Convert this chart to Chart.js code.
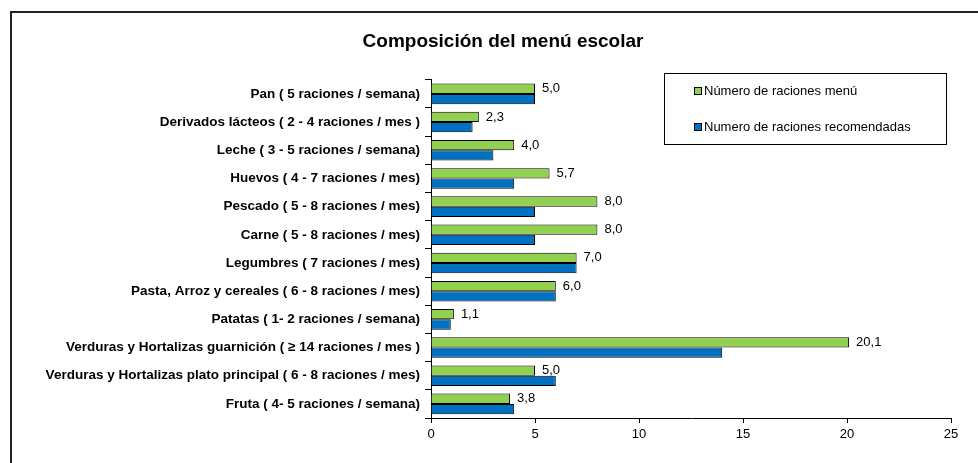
<!DOCTYPE html>
<html>
<head>
<meta charset="utf-8">
<script src="https://cdn.jsdelivr.net/npm/chart.js@4/dist/chart.umd.min.js"></script>
<style>
  html, body { margin: 0; padding: 0; background: #fff; overflow: hidden; }
  #wrap { position: relative; width: 978px; height: 463px; }
  #frame { position: absolute; left: 10px; top: 11px; width: 1000px; height: 500px; border: 2px solid #222; box-sizing: border-box; pointer-events: none; }
  canvas { position: absolute; left: 0; top: 0; }
</style>
</head>
<body>
<div id="wrap">
  <canvas id="grafico" width="978" height="463"></canvas>
  <div id="frame"></div>
</div>
<script>
'use strict';

const categorias = [
    'Pan ( 5 raciones / semana)',
    'Derivados lácteos ( 2 - 4 raciones / mes )',
    'Leche ( 3 - 5 raciones / semana)',
    'Huevos ( 4 - 7 raciones / mes)',
    'Pescado ( 5 - 8 raciones / mes)',
    'Carne ( 5 - 8 raciones / mes)',
    'Legumbres ( 7 raciones / mes)',
    'Pasta, Arroz y cereales ( 6 - 8 raciones / mes)',
    'Patatas ( 1- 2 raciones / semana)',
    'Verduras y Hortalizas guarnición ( ≥ 14 raciones / mes )',
    'Verduras y Hortalizas plato principal ( 6 - 8 raciones / mes)',
    'Fruta ( 4- 5 raciones / semana)'
];

const racionesMenu = [5.0, 2.3, 4.0, 5.7, 8.0, 8.0, 7.0, 6.0, 1.1, 20.1, 5.0, 3.8];
const racionesRecomendadas = [5, 2, 3, 4, 5, 5, 7, 6, 0.95, 14, 6, 4];

const etiquetasSeries = ['Número de raciones menú', 'Numero de raciones recomendadas'];
const ticksX = [0, 5, 10, 15, 20, 25];

const fuente = "'Liberation Sans', Arial, sans-serif";

// Desplaza el título para centrarlo como en el original
const moverTitulo = {
    id: 'moverTitulo',
    afterLayout(chart) {
        if (chart.titleBlock) {
            chart.titleBlock.left = 28;
            chart.titleBlock.right = 978;
        }
    }
};

// Etiquetas de valor a la derecha de las barras verdes
const etiquetasValor = {
    id: 'etiquetasValor',
    afterDatasetsDraw(chart) {
        const ctx = chart.ctx;
        const meta = chart.getDatasetMeta(0);
        ctx.save();
        ctx.font = '13px ' + fuente;
        ctx.fillStyle = '#000';
        ctx.textAlign = 'left';
        ctx.textBaseline = 'middle';
        meta.data.forEach((bar, i) => {
            const v = chart.data.datasets[0].data[i];
            ctx.fillText(v.toFixed(1).replace('.', ','), bar.x + 7, bar.y);
        });
        ctx.restore();
    }
};

// Leyenda en recuadro, dentro del área del gráfico
const leyendaCaja = {
    id: 'leyendaCaja',
    afterDraw(chart) {
        const ctx = chart.ctx;
        ctx.save();
        ctx.strokeStyle = '#000';
        ctx.lineWidth = 1;
        ctx.fillStyle = '#fff';
        ctx.fillRect(664.5, 73.5, 282, 71);
        ctx.strokeRect(664.5, 73.5, 282, 71);
        ctx.font = '13px ' + fuente;
        ctx.textBaseline = 'middle';
        chart.data.datasets.forEach((ds, i) => {
            const y = 91 + i * 36;
            ctx.fillStyle = ds.backgroundColor;
            ctx.fillRect(694.5, y - 3.5, 7, 7);
            ctx.strokeRect(694.5, y - 3.5, 7, 7);
            ctx.fillStyle = '#000';
            ctx.fillText(ds.label, 704, y);
        });
        ctx.restore();
    }
};

const ctx = document.getElementById('grafico');

new Chart(ctx, {
    type: 'bar',
    data: {
        labels: categorias,
        datasets: [{
            label: etiquetasSeries[0],
            data: racionesMenu,
            backgroundColor: '#92D050',
            borderColor: '#000',
            borderWidth: 1,
            categoryPercentage: 0.73,
            barPercentage: 1.0
        }, {
            label: etiquetasSeries[1],
            data: racionesRecomendadas,
            backgroundColor: '#0070C0',
            borderColor: '#000',
            borderWidth: 1,
            categoryPercentage: 0.73,
            barPercentage: 1.0
        }]
    },
    options: {
        indexAxis: 'y',
        responsive: false,
        animation: false,
        layout: { padding: { left: 28, right: 27, top: 0, bottom: 0 } },
        plugins: {
            legend: { display: false },
            tooltip: { enabled: false },
            title: {
                display: true,
                text: 'Composición del menú escolar',
                color: '#000',
                font: { family: fuente, size: 19, weight: 'bold' },
                padding: { top: 30, bottom: 27 }
            }
        },
        scales: {
            x: {
                min: 0,
                max: 25,
                afterBuildTicks(scale) {
                    scale.ticks = ticksX.map(v => ({ value: v }));
                },
                afterFit(scale) { scale.height = 45; },
                grid: { display: true, drawOnChartArea: false, drawTicks: true, tickLength: 5, color: '#000' },
                border: { display: true, color: '#000' },
                ticks: { color: '#000', font: { family: fuente, size: 13 }, padding: 4 }
            },
            y: {
                afterFit(scale) { scale.width = 403; },
                grid: { display: true, drawOnChartArea: false, drawTicks: true, tickLength: 6, color: '#000', offset: true },
                border: { display: true, color: '#000' },
                ticks: { color: '#000', font: { family: fuente, size: 13.5, weight: 'bold' }, padding: 5, autoSkip: false }
            }
        }
    },
    plugins: [moverTitulo, etiquetasValor, leyendaCaja]
});
</script>
</body>
</html>
